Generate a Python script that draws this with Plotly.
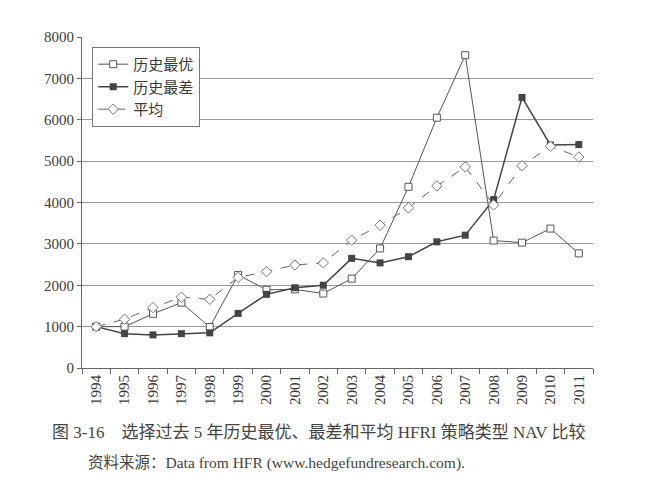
import plotly.graph_objects as go

years = [str(y) for y in range(1994, 2012)]

best = [1000, 1000, 1310, 1580, 990, 2250, 1890, 1900, 1800, 2160,
        2890, 4380, 6050, 7560, 3080, 3030, 3370, 2770]
worst = [1000, 830, 800, 830, 850, 1320, 1780, 1940, 2000, 2650,
         2540, 2690, 3050, 3210, 4070, 6540, 5390, 5400]
average = [1000, 1180, 1460, 1710, 1660, 2190, 2330, 2490, 2540, 3090,
           3450, 3870, 4400, 4860, 3940, 4890, 5360, 5100]

names = ["历史最优", "历史最差", "平均"]

serif = "Liberation Serif, Noto Sans CJK SC, serif"
ink = "#3a3a3a"

fig = go.Figure()
fig.add_trace(go.Scatter(
    x=years, y=best, name=names[0], mode="lines+markers",
    line=dict(color="#555555", width=1),
    marker=dict(symbol="square", size=7, color="white",
                line=dict(color="#555555", width=1)),
))
fig.add_trace(go.Scatter(
    x=years, y=worst, name=names[1], mode="lines+markers",
    line=dict(color="#444444", width=1.5),
    marker=dict(symbol="square", size=7, color="#444444"),
))
fig.add_trace(go.Scatter(
    x=years, y=average, name=names[2], mode="lines+markers",
    line=dict(color="#666666", width=1, dash="dash"),
    marker=dict(symbol="diamond", size=8, color="white",
                line=dict(color="#777777", width=1)),
))

# page body has an 8px margin, so the figure is shrunk by that much
fig.update_layout(
    width=651, height=481,
    paper_bgcolor="white", plot_bgcolor="white",
    margin=dict(l=74, r=66, t=29, b=121),
    font=dict(family=serif, color=ink, size=15),
    showlegend=True,
    legend=dict(
        x=0.02, y=0.97, xanchor="left", yanchor="top",
        bgcolor="white", bordercolor="#777777", borderwidth=1,
        font=dict(size=15, family=serif, color=ink),
        tracegroupgap=0, itemwidth=30,
    ),
    xaxis=dict(
        type="category", range=[-0.5, 17.5],
        showline=True, linecolor="#666666", linewidth=1,
        ticks="outside", tickson="boundaries", ticklen=5, tickcolor="#666666",
        tickangle=-90, showgrid=False,
        tickfont=dict(size=15, family=serif, color=ink),
    ),
    yaxis=dict(
        range=[0, 8000], dtick=1000,
        showline=True, linecolor="#666666", linewidth=1,
        ticks="outside", ticklen=4, tickcolor="#666666",
        showgrid=True, gridcolor="#9a9a9a", gridwidth=1,
        zeroline=False,
        tickfont=dict(size=15, family=serif, color=ink),
    ),
    annotations=[
        dict(text="图 3-16　选择过去 5 年历史最优、最差和平均 HFRI 策略类型 NAV 比较",
             xref="paper", yref="paper", x=-0.063, y=-0.196,
             xanchor="left", yanchor="middle", showarrow=False,
             font=dict(size=17, family=serif, color="#444444")),
        dict(text="资料来源：Data from HFR (www.hedgefundresearch.com).",
             xref="paper", yref="paper", x=0.008, y=-0.287,
             xanchor="left", yanchor="middle", showarrow=False,
             font=dict(size=15.5, family=serif, color="#444444")),
    ],
)

fig.write_html("out.html")
